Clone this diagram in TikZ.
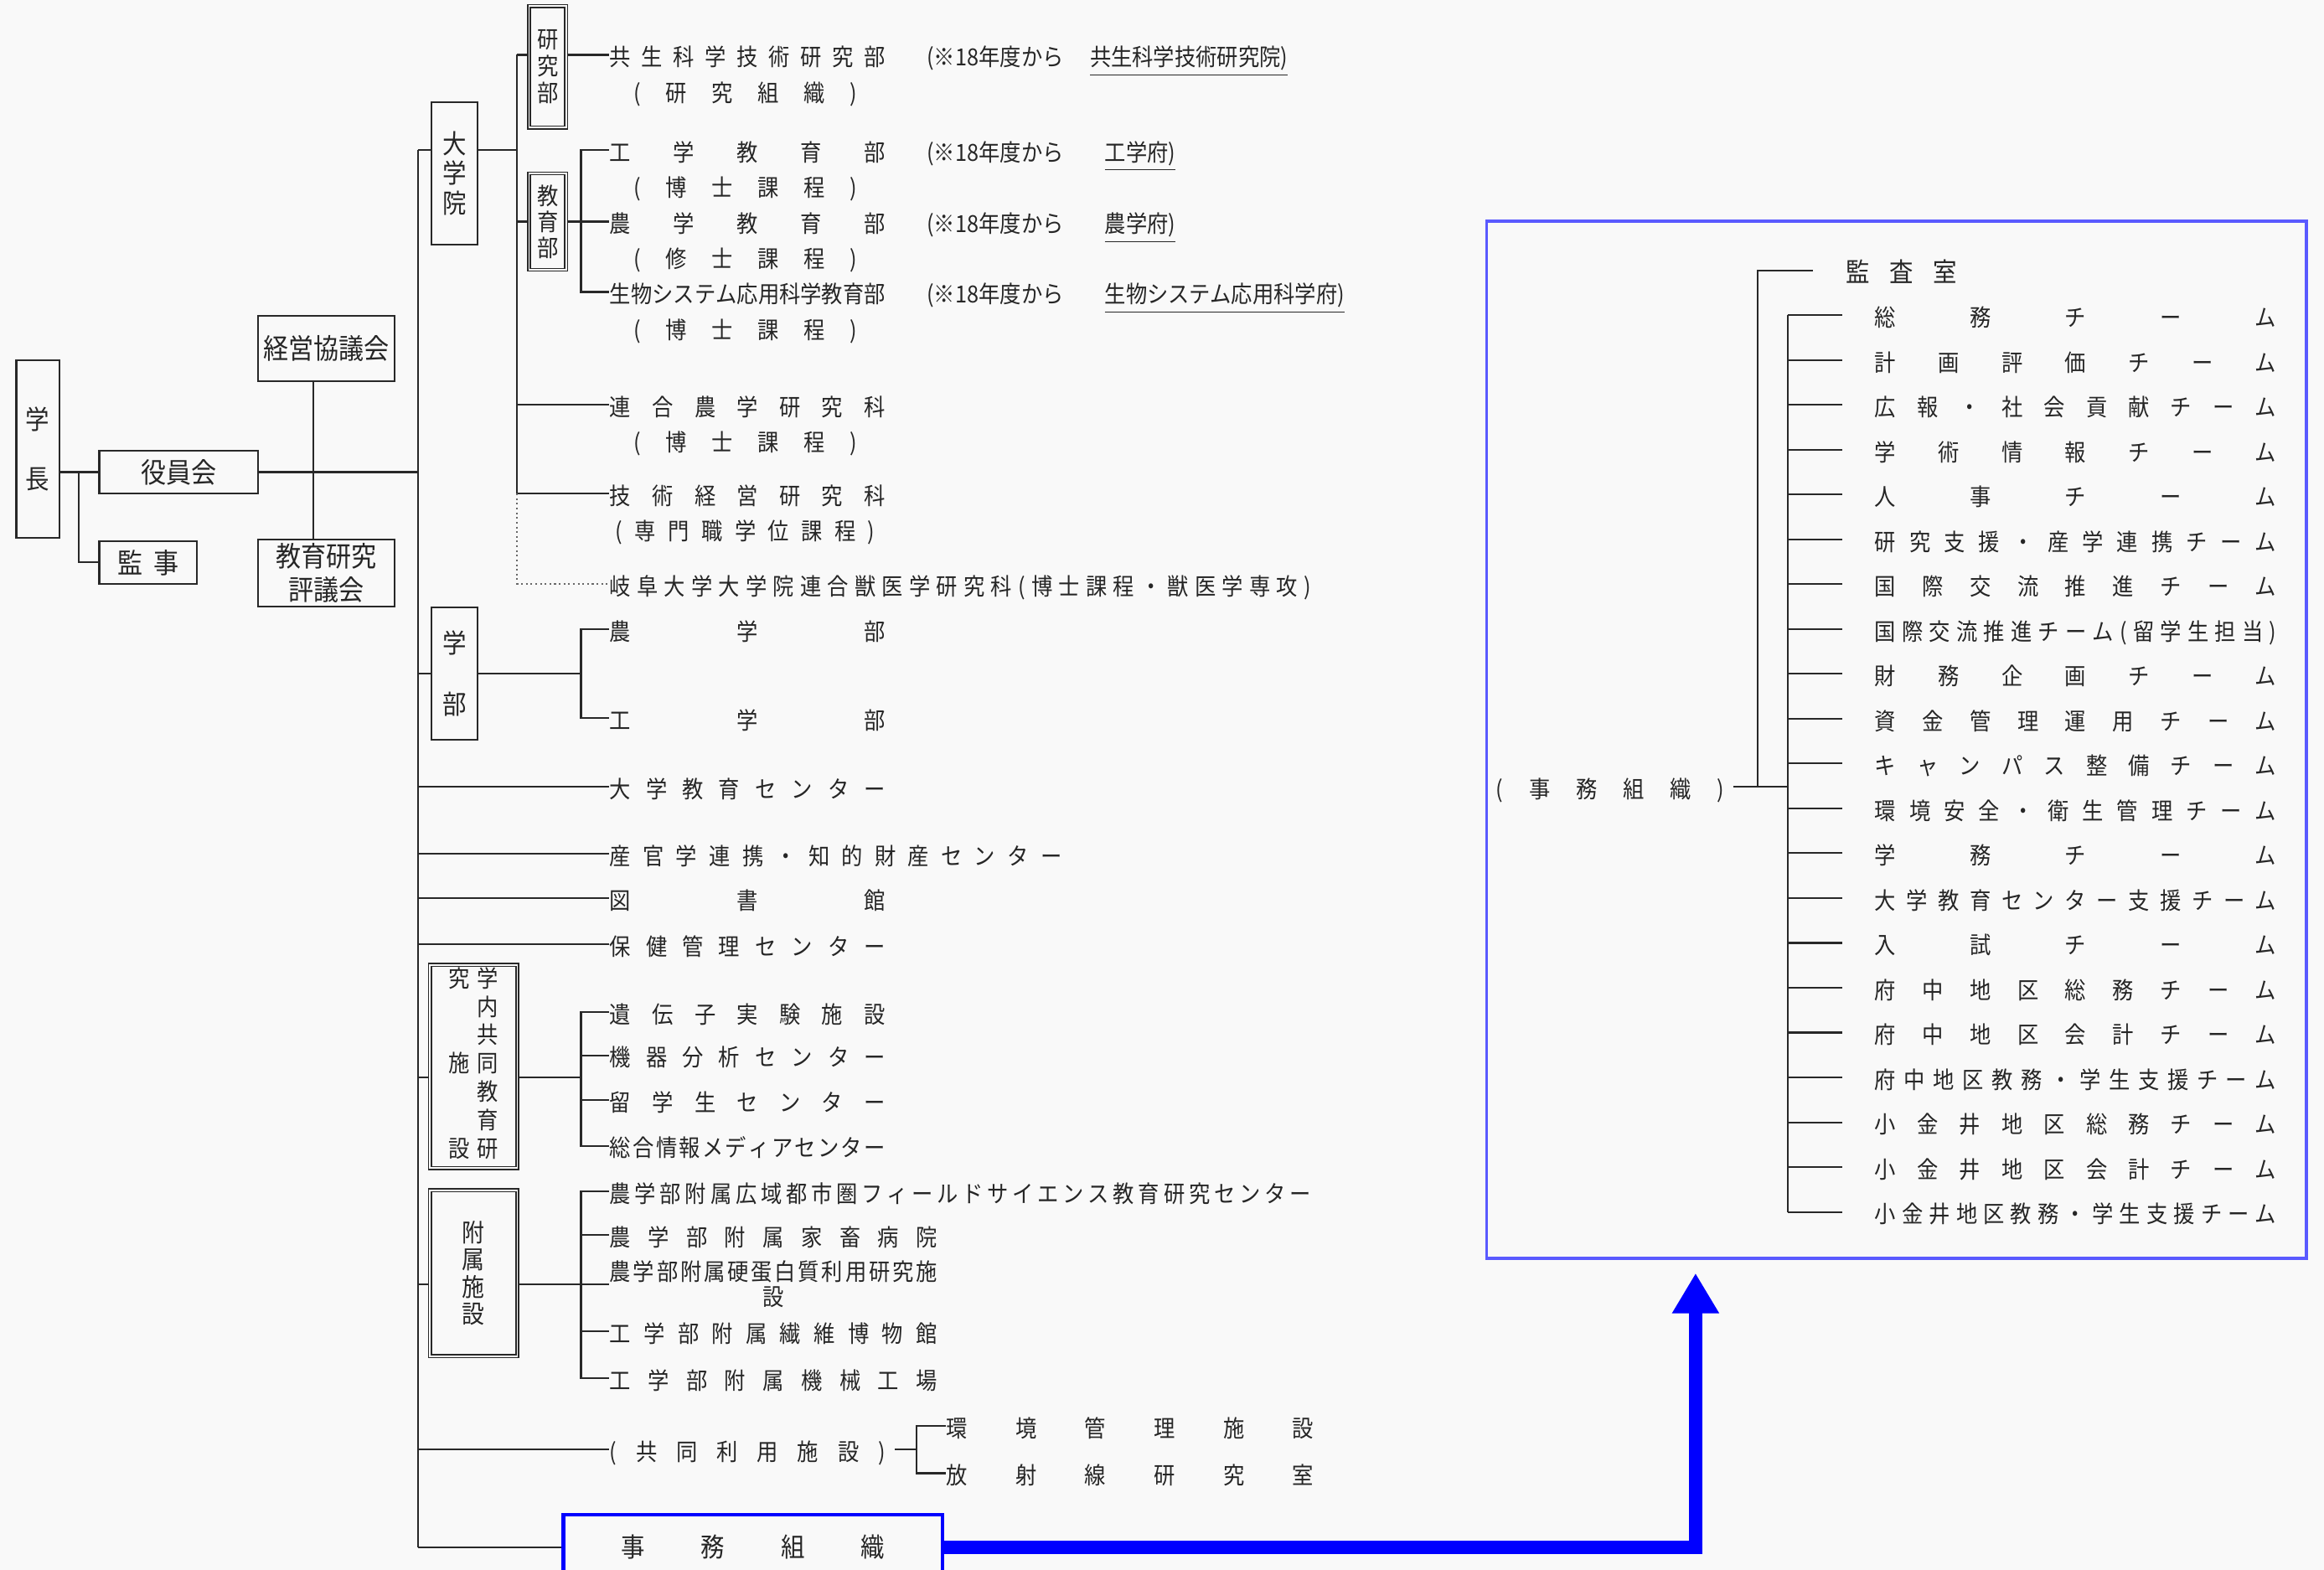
\documentclass[tikz,border=0pt]{standalone}
\usepackage{fontspec}
\newfontfamily\jp[FakeStretch=0.9]{Noto Sans CJK JP}
\usetikzlibrary{arrows.meta}
\definecolor{bgcol}{RGB}{249,249,249}
\definecolor{linecol}{RGB}{40,40,40}
\definecolor{boxblue}{RGB}{0,0,255}
\definecolor{frameblue}{RGB}{90,90,255}
\newlength\pxu
\setlength\pxu{0.01769cm}
\makeatletter
% spread the characters of #2 evenly over #1 units
\newcommand\spreadtext[2]{%
  \makebox[#1\pxu][s]{%
    \def\spr@sep{}%
    \edef\spr@list{#2}%
    \expandafter\@tfor\expandafter\spr@c\expandafter:\expandafter=\spr@list\do{\spr@sep\spr@c\def\spr@sep{\hfill}}%
  }%
}
\makeatother
\tikzset{
  lbl/.style={inner sep=0pt, text height=0.78em, text depth=0.02em, font=\jp\fontsize{8}{9}\selectfont, text=black!85},
  orgbox/.style={draw=linecol, line width=0.6pt, inner sep=0pt, align=center, text=black!85},
  dblbox/.style={orgbox, line width=0.45pt, double=bgcol, double distance=0.5pt},
  sz/.style 2 args={minimum width=#1*\pxu, minimum height=#2*\pxu},
  vtext/.style 2 args={font=\jp\fontsize{#1}{#2}\selectfont},
  conn/.style={draw=linecol, line width=0.6pt},
}
\begin{document}
\begin{tikzpicture}[x=0.01769cm, y=-0.01769cm]
  \path[use as bounding box, fill=bgcol] (0,0) rectangle (1568,1059);

  % top management
  \node[orgbox, sz={29}{120}, vtext={9}{20}] (gakucho) at (25.5,303) {学\\長};
  \node[orgbox, sz={107}{29}, vtext={9.5}{11}] (yakuin) at (120.5,318.5) {役員会};
  \node[orgbox, sz={66}{29}, vtext={9.5}{11}] (kanji) at (100,379.5) {\spreadtext{41}{監事}};
  \node[orgbox, sz={92}{44}, vtext={9.5}{11}] (keiei) at (220,235) {経営協議会};
  \node[orgbox, sz={92}{45}, vtext={9.5}{11.5}] (hyogi) at (220,386.5) {教育研究\\評議会};
  \coordinate (tr) at (282,0);
  \coordinate (jk) at (53,318.5);
  \coordinate (kv) at (211.6,0);
  \draw[conn] (gakucho.east |- yakuin.west) -- (yakuin.west);
  \draw[conn] (jk) |- (kanji.west);
  \draw[conn] (yakuin.east) -- (tr |- yakuin.east);
  \draw[conn] (kv |- keiei.south) -- (kv |- hyogi.north);

  % graduate school
  \node[orgbox, sz={31}{96}, vtext={9}{10}] (daigakuin) at (306.5,117) {大\\学\\院};
  \node[dblbox, sz={25}{82}, vtext={8}{9.2}] (kenbu) at (369.5,45) {研\\究\\部};
  \node[dblbox, sz={25}{65}, vtext={8}{8.8}] (kyoikubu) at (369.5,149.5) {教\\育\\部};
  \coordinate (dg) at (282,101);
  \coordinate (tr2) at (349,0);
  \coordinate (tr3) at (392,0);

  \node[lbl, anchor=west] (kyosei) at (411,37) {\spreadtext{186}{共生科学技術研究部}};
  \node[lbl, anchor=west] (kyosei2) at (427,61) {\spreadtext{151}{(研究組織)}};
  \node[lbl, anchor=west] (note1) at (625,37) {(※18年度から};
  \node[lbl, anchor=west] (new1) at (735,37) {\underline{共生科学技術研究院)}};
  \node[lbl, anchor=west] (kogaku) at (411,101) {\spreadtext{186}{工学教育部}};
  \node[lbl, anchor=west] (kogaku2) at (427,125) {\spreadtext{151}{(博士課程)}};
  \node[lbl, anchor=west] (note2) at (625,101) {(※18年度から};
  \node[lbl, anchor=west] (new2) at (745,101) {\underline{工学府)}};
  \node[lbl, anchor=west] (nogaku) at (411,149.5) {\spreadtext{186}{農学教育部}};
  \node[lbl, anchor=west] (nogaku2) at (427,173) {\spreadtext{151}{(修士課程)}};
  \node[lbl, anchor=west] (note3) at (625,149.5) {(※18年度から};
  \node[lbl, anchor=west] (new3) at (745,149.5) {\underline{農学府)}};
  \node[lbl, anchor=west] (seibutsu) at (411,197) {\spreadtext{186}{生物システム応用科学教育部}};
  \node[lbl, anchor=west] (seibutsu2) at (427,221) {\spreadtext{151}{(博士課程)}};
  \node[lbl, anchor=west] (note4) at (625,197) {(※18年度から};
  \node[lbl, anchor=west] (new4) at (745,197) {\underline{生物システム応用科学府)}};
  \node[lbl, anchor=west] (rengo) at (411,273) {\spreadtext{186}{連合農学研究科}};
  \node[lbl, anchor=west] (rengo2) at (427,297) {\spreadtext{151}{(博士課程)}};
  \node[lbl, anchor=west] (gijutsu) at (411,333) {\spreadtext{186}{技術経営研究科}};
  \node[lbl, anchor=west] (gijutsu2) at (415,357) {\spreadtext{175}{(専門職学位課程)}};
  \node[lbl, anchor=west] (gifu) at (411,394) {\spreadtext{473}{岐阜大学大学院連合獣医学研究科(博士課程・獣医学専攻)}};

  \draw[conn] (dg) -- (dg -| daigakuin.west);
  \draw[conn] (dg -| daigakuin.east) -- (dg -| tr2);
  \draw[conn] (tr2 |- kyosei.west) -- (kenbu.west |- kyosei.west);
  \draw[conn] (kenbu.east |- kyosei.west) -- (kyosei.west);
  \draw[conn] (tr2 |- kyosei.west) -- (tr2 |- gijutsu.west);
  \draw[conn] (tr2 |- kyoikubu.west) -- (kyoikubu.west);
  \draw[conn] (kyoikubu.east) -- (tr3 |- kyoikubu.east);
  \draw[conn] (kogaku.west) -| (tr3 |- seibutsu.west) -- (seibutsu.west);
  \draw[conn] (tr3 |- nogaku.west) -- (nogaku.west);
  \draw[conn] (tr2 |- rengo.west) -- (rengo.west);
  \draw[conn] (tr2 |- gijutsu.west) -- (gijutsu.west);
  \draw[conn, draw=linecol!70, densely dotted] (tr2 |- gijutsu.west) -- (tr2 |- gifu.west) -- (gifu.west);

  % faculties
  \node[orgbox, sz={31}{89}, vtext={9}{20.6}] (gakubu) at (306.5,454.5) {学\\部};
  \node[lbl, anchor=west] (nogakubu) at (411,424.6) {\spreadtext{186}{農学部}};
  \node[lbl, anchor=west] (kogakubu) at (411,484.6) {\spreadtext{186}{工学部}};
  \draw[conn] (tr |- gakubu.west) -- (gakubu.west);
  \draw[conn] (gakubu.east) -- (tr3 |- gakubu.east);
  \draw[conn] (nogakubu.west) -| (tr3 |- kogakubu.west) -- (kogakubu.west);

  % centres
  \node[lbl, anchor=west] (daikyo) at (411,531) {\spreadtext{186}{大学教育センター}};
  \node[lbl, anchor=west] (sankan) at (411,576) {\spreadtext{305}{産官学連携・知的財産センター}};
  \node[lbl, anchor=west] (tosho) at (411,606) {\spreadtext{186}{図書館}};
  \node[lbl, anchor=west] (hoken) at (411,637) {\spreadtext{186}{保健管理センター}};
  \draw[conn] (tr |- daikyo.west) -- (daikyo.west);
  \draw[conn] (tr |- sankan.west) -- (sankan.west);
  \draw[conn] (tr |- tosho.west) -- (tosho.west);
  \draw[conn] (tr |- hoken.west) -- (hoken.west);

  % joint facilities
  \node[dblbox, sz={59}{137}, vtext={8}{9.6}] (gakunai) at (319.5,719.5)
    {\begin{tabular}{@{}c@{\hspace{2.3pt}}c@{}}究&学\\&内\\&共\\施&同\\&教\\&育\\設&研\end{tabular}};
  \coordinate (gn) at (282,727);
  \node[lbl, anchor=west] (idenshi) at (411,683) {\spreadtext{186}{遺伝子実験施設}};
  \node[lbl, anchor=west] (kiki) at (411,712) {\spreadtext{186}{機器分析センター}};
  \node[lbl, anchor=west] (ryugaku) at (411,742) {\spreadtext{186}{留学生センター}};
  \node[lbl, anchor=west] (sogo) at (411,773) {\spreadtext{186}{総合情報メディアセンター}};
  \draw[conn] (gn) -- (gn -| gakunai.west);
  \draw[conn] (gn -| gakunai.east) -- (gn -| tr3);
  \draw[conn] (idenshi.west) -| (tr3 |- sogo.west) -- (sogo.west);
  \draw[conn] (tr3 |- kiki.west) -- (kiki.west);
  \draw[conn] (tr3 |- ryugaku.west) -- (ryugaku.west);

  % attached facilities
  \node[dblbox, sz={59}{112}, vtext={8.5}{9.2}] (fuzoku) at (319.5,859) {附\\属\\施\\設};
  \node[lbl, anchor=west] (koiki) at (411,804) {\spreadtext{473}{農学部附属広域都市圏フィールドサイエンス教育研究センター}};
  \node[lbl, anchor=west] (kachiku) at (411,833) {\spreadtext{221}{農学部附属家畜病院}};
  \node[anchor=west, inner sep=0pt, align=center, text=black!85, vtext={8}{8.6}] (kotanpaku) at (411,866.5)
    {\spreadtext{221}{農学部附属硬蛋白質利用研究施}\\設};
  \node[lbl, anchor=west] (seni) at (411,898) {\spreadtext{221}{工学部附属繊維博物館}};
  \node[lbl, anchor=west] (kikai) at (411,930) {\spreadtext{221}{工学部附属機械工場}};
  \draw[conn] (tr |- kotanpaku.west) -- (fuzoku.west |- kotanpaku.west);
  \draw[conn] (fuzoku.east |- kotanpaku.west) -- (kotanpaku.west);
  \draw[conn] (koiki.west) -| (tr3 |- kikai.west) -- (kikai.west);
  \draw[conn] (tr3 |- kachiku.west) -- (kachiku.west);
  \draw[conn] (tr3 |- seni.west) -- (seni.west);

  % shared facilities
  \node[lbl, anchor=west] (kyodo) at (411,978) {\spreadtext{186}{(共同利用施設)}};
  \node[lbl, anchor=west] (kankyo) at (638,962) {\spreadtext{248}{環境管理施設}};
  \node[lbl, anchor=west] (hosha) at (638,994) {\spreadtext{248}{放射線研究室}};
  \coordinate (tr4) at (618.6,0);
  \draw[conn] (tr |- kyodo.west) -- (kyodo.west);
  \draw[conn] ([xshift=3pt]kyodo.east) -- (tr4 |- kyodo.east);
  \draw[conn] (kankyo.west) -| (tr4 |- hosha.west) -- (hosha.west);

  % administration
  \node[orgbox, draw=boxblue, line width=1.3pt, sz={256}{44}, vtext={9}{11}] (jimu) at (508,1044) {\spreadtext{178}{事務組織}};
  \draw[conn] (tr |- jimu.west) -- (jimu.west);
  \draw[conn] (dg) -- (tr |- jimu.west);

  \node[draw=frameblue, line width=1.1pt, sz={553}{700}, inner sep=0pt] (jimuframe) at (1279.5,499) {};
  \coordinate (arrtip) at (1144,859);
  \draw[boxblue, line width=4.5pt, -{Triangle[length=13.6pt, width=15pt]}] (jimu.east) -| (arrtip);

  \node[lbl, anchor=west] (jimu2) at (1009,530.7) {\spreadtext{154}{(事務組織)}};
  \node[lbl, anchor=west, vtext={9}{10}] (kansa) at (1245,182.6) {\spreadtext{75}{監査室}};
  \coordinate (tr5) at (1186,0);
  \coordinate (tr6) at (1206,0);
  \draw[conn] ([xshift=3pt]jimu2.east) -- (tr6 |- jimu2.east);
  \draw[conn] (tr5 |- jimu2.east) -- (tr5 |- kansa.west) -- +(37,0);
  \foreach \team [count=\i from 0] in {総務チーム, 計画評価チーム, 広報・社会貢献チーム, 学術情報チーム,
      人事チーム, 研究支援・産学連携チーム, 国際交流推進チーム, 国際交流推進チーム(留学生担当),
      財務企画チーム, 資金管理運用チーム, キャンパス整備チーム, 環境安全・衛生管理チーム,
      学務チーム, 大学教育センター支援チーム, 入試チーム, 府中地区総務チーム, 府中地区会計チーム,
      府中地区教務・学生支援チーム, 小金井地区総務チーム, 小金井地区会計チーム, 小金井地区教務・学生支援チーム} {
    \node[lbl, anchor=west] (team\i) at (1264.5,212.6+30.255*\i) {\spreadtext{271}{\team}};
    \draw[conn] (tr6 |- team\i.west) -- +(37,0);
  }
  \draw[conn] (tr6 |- team0.west) -- (tr6 |- team20.west);
\end{tikzpicture}
\end{document}
